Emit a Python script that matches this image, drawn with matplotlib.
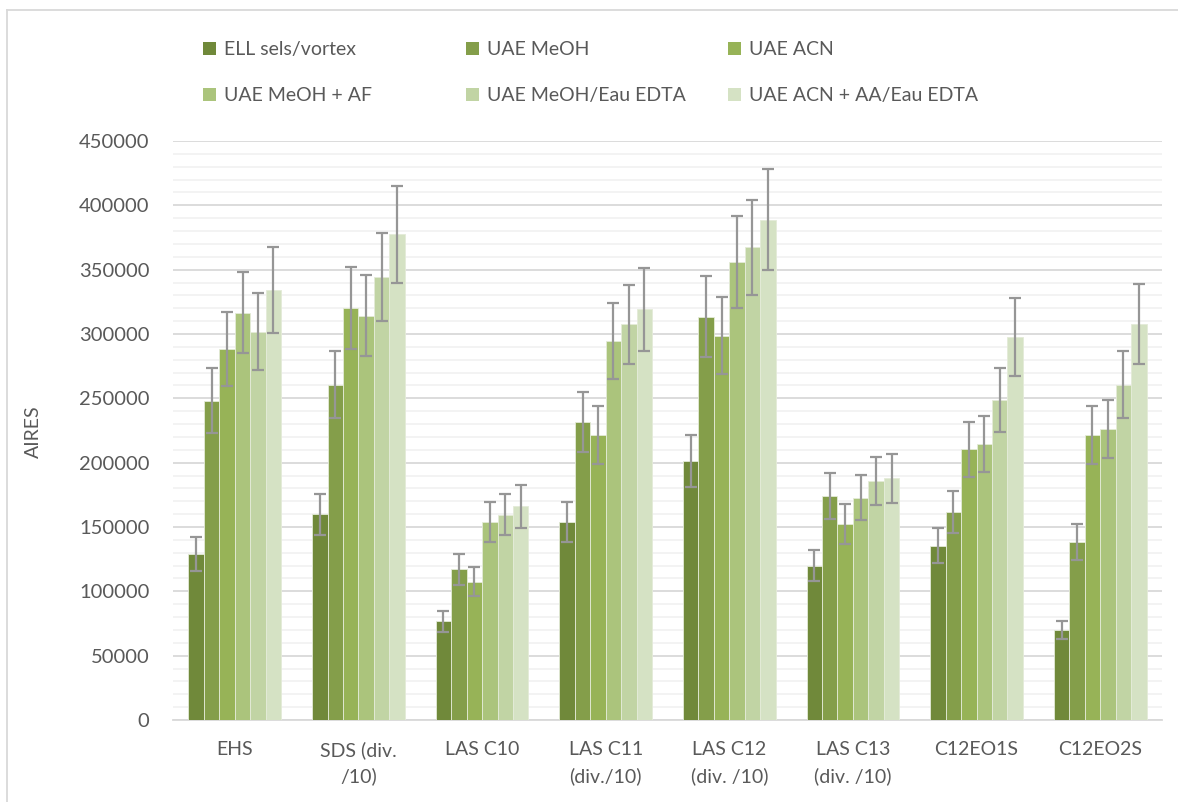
import numpy as np
import matplotlib.pyplot as plt
from matplotlib.lines import Line2D
from matplotlib.patches import Patch

plt.rcParams['font.family'] = ['Lato', 'DejaVu Sans']

categories = ['EHS', 'SDS (div.\n/10)', 'LAS C10', 'LAS C11\n(div./10)',
              'LAS C12\n(div. /10)', 'LAS C13\n(div. /10)', 'C12EO1S', 'C12EO2S']
series = ['ELL sels/vortex', 'UAE MeOH', 'UAE ACN', 'UAE MeOH + AF',
          'UAE MeOH/Eau EDTA', 'UAE ACN + AA/Eau EDTA']

ell_vortex   = [129000, 160000, 76600, 153800, 201400, 119800, 135600, 70000]
uae_meoh     = [248200, 260700, 117100, 231800, 313500, 174000, 161800, 138600]
uae_acn      = [288400, 320000, 107600, 221400, 298600, 152300, 210400, 221400]
uae_meoh_af  = [316400, 314100, 154100, 294700, 355800, 172800, 214500, 225900]
uae_meoh_eau = [301800, 344200, 159400, 307500, 367400, 185600, 248500, 260400]
uae_acn_aa   = [334000, 377500, 166000, 319100, 388900, 188000, 297700, 307800]

err_ell_vortex   = [13000, 16000, 7900, 15400, 20200, 12000, 13700, 7100]
err_uae_meoh     = [25000, 26000, 11900, 23200, 31600, 17700, 16400, 14100]
err_uae_acn      = [29000, 32000, 11000, 22300, 29800, 15300, 21300, 22300]
err_uae_meoh_af  = [31500, 31400, 15600, 29600, 35900, 17400, 21600, 22600]
err_uae_meoh_eau = [30000, 34300, 16000, 30800, 36800, 18800, 25000, 26000]
err_uae_acn_aa   = [33400, 37600, 16700, 32000, 39200, 19000, 30000, 30800]

values = [ell_vortex, uae_meoh, uae_acn, uae_meoh_af, uae_meoh_eau, uae_acn_aa]
errors = [err_ell_vortex, err_uae_meoh, err_uae_acn, err_uae_meoh_af,
          err_uae_meoh_eau, err_uae_acn_aa]
colors = ['#70893A', '#849E4A', '#97B357', '#ABC47C', '#C1D4A4', '#D5E2C4']

text_color = '#595959'

fig = plt.figure(figsize=(11.78, 8.02), dpi=100)
ax = fig.add_axes([173 / 1178, 1 - 720 / 802, (1162 - 173) / 1178, (720 - 141) / 802])

x = np.arange(len(categories))
width = 0.125
for i, (vals, errs, col) in enumerate(zip(values, errors, colors)):
    pos = x + (i - 2.5) * width
    ax.bar(pos, vals, width, color=col, edgecolor='#E4EBD8', linewidth=0.6,
           label=series[i], zorder=3)
    ax.errorbar(pos, vals, yerr=errs, fmt='none', ecolor='#969696',
                elinewidth=1.6, capsize=4.5, capthick=1.6, zorder=4)

ax.set_xlim(-0.5, len(categories) - 0.5)
ax.set_ylim(0, 450000)
ax.set_yticks(np.arange(0, 450001, 50000))
ax.set_yticks(np.arange(0, 450001, 10000), minor=True)
ax.grid(axis='y', which='major', color='#D9D9D9', linewidth=1.3, zorder=0)
ax.grid(axis='y', which='minor', color='#F2F2F2', linewidth=1.3, zorder=0)
ax.set_axisbelow(True)

for side in ['top', 'right', 'left']:
    ax.spines[side].set_visible(False)
ax.spines['bottom'].set_color('#D9D9D9')
ax.spines['bottom'].set_linewidth(1.3)

ax.set_xticks(x)
ax.set_xticklabels(categories, fontsize=14, color=text_color, linespacing=1.6)
ax.tick_params(axis='x', length=0, pad=15)
ax.tick_params(axis='y', which='both', length=0, pad=17, labelsize=14.5,
               labelcolor=text_color)

fig.text(33 / 1178, 1 - 432 / 802, 'AIRES', rotation=90, ha='center',
         va='center', fontsize=14, color=text_color)

# legend laid out row by row, three columns
col_x = [203 / 1178, 466 / 1178, 728 / 1178]
for c in range(3):
    idx = [c, c + 3]
    handles = [Patch(facecolor=colors[k], edgecolor='none') for k in idx]
    fig.legend(handles, [series[k] for k in idx], loc='upper left',
               bbox_to_anchor=(col_x[c], 1 - 41 / 802), frameon=False,
               fontsize=14, labelcolor=text_color, handlelength=0.65,
               handleheight=0.65, handletextpad=0.45, labelspacing=1.5,
               borderaxespad=0, borderpad=0)

# chart area border
fig.add_artist(Line2D([7 / 1178, 7 / 1178], [0, 1 - 10 / 802],
                      transform=fig.transFigure, color='#D9D9D9', linewidth=1.3))
fig.add_artist(Line2D([7 / 1178, 1], [1 - 10 / 802, 1 - 10 / 802],
                      transform=fig.transFigure, color='#D9D9D9', linewidth=1.3))

fig.savefig('out.png', dpi=100, facecolor='white')
